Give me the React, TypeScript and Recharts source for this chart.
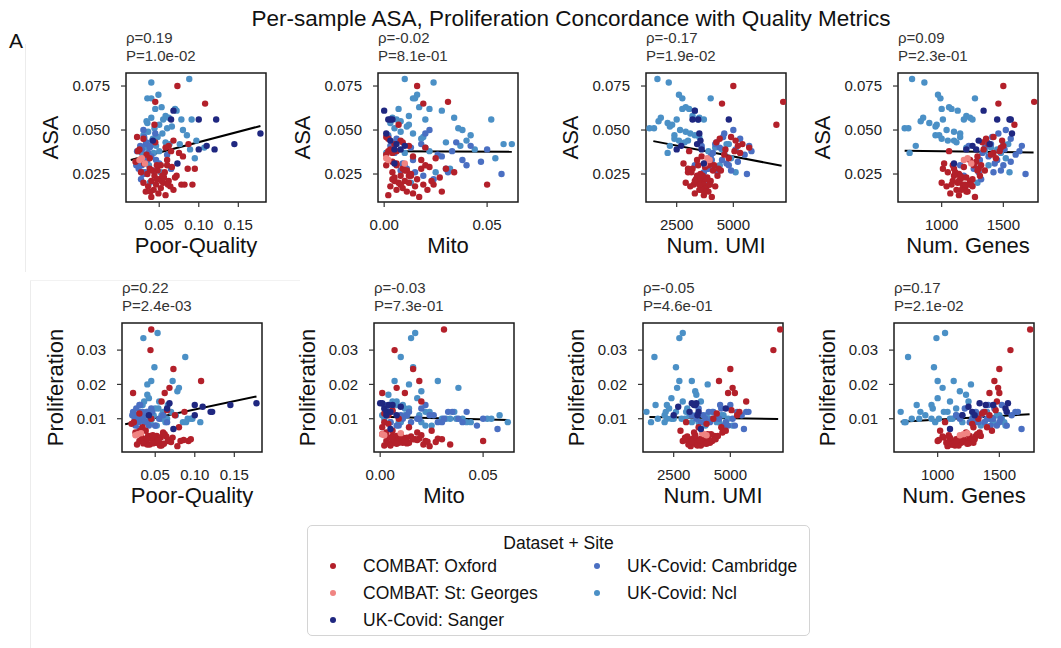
import React from 'react';
import { ScatterChart, Scatter, XAxis, YAxis, ReferenceLine, ReferenceArea } from 'recharts';

// one row per sample: [poor-quality, mito, num UMI, num genes, ASA, proliferation]
const OXFORD = [
  [0.045, 0.031, 7200, 1750, 0.066, 0.036], [0.044, 0.007, 6900, 1590, 0.053, 0.030],
  [0.073, 0.016, 5000, 1500, 0.075, 0.0245], [0.108, 0.019, 4500, 1460, 0.065, 0.021],
  [0.068, 0.008, 5100, 1490, 0.044, 0.019], [0.062, 0.012, 5200, 1500, 0.041, 0.0175],
  [0.022, 0.001, 4900, 1420, 0.046, 0.0175], [0.058, 0.020, 5700, 1480, 0.040, 0.015],
  [0.087, 0.005, 5400, 1380, 0.042, 0.012], [0.030, 0.002, 4400, 1360, 0.045, 0.0115],
  [0.075, 0.004, 5300, 1420, 0.037, 0.011], [0.025, 0.003, 4650, 1340, 0.039, 0.006],
  [0.080, 0.014, 3600, 1290, 0.035, 0.0075], [0.060, 0.018, 3400, 1230, 0.033, 0.006],
  [0.052, 0.006, 3900, 1260, 0.030, 0.005], [0.038, 0.009, 3200, 1100, 0.028, 0.004],
  [0.066, 0.022, 3750, 1180, 0.029, 0.0035], [0.048, 0.011, 4100, 1290, 0.027, 0.003],
  [0.057, 0.004, 3000, 1050, 0.026, 0.0045], [0.035, 0.013, 3550, 1140, 0.025, 0.0028],
  [0.044, 0.008, 4300, 1310, 0.024, 0.005], [0.070, 0.027, 3850, 1200, 0.023, 0.0032],
  [0.050, 0.016, 3350, 1150, 0.022, 0.004], [0.040, 0.005, 3650, 1090, 0.021, 0.0025],
  [0.062, 0.010, 4000, 1230, 0.021, 0.0055], [0.030, 0.012, 2900, 1000, 0.020, 0.0035],
  [0.055, 0.007, 3450, 1130, 0.020, 0.003], [0.046, 0.019, 3700, 1170, 0.019, 0.0042],
  [0.078, 0.024, 3250, 1080, 0.019, 0.002], [0.036, 0.003, 4200, 1250, 0.018, 0.0035],
  [0.064, 0.015, 3100, 1040, 0.018, 0.0048], [0.052, 0.009, 3800, 1190, 0.017, 0.003],
  [0.043, 0.021, 3500, 1120, 0.016, 0.0025], [0.068, 0.006, 3600, 1160, 0.016, 0.0038],
  [0.033, 0.011, 3900, 1210, 0.015, 0.0045], [0.049, 0.014, 3300, 1070, 0.014, 0.003],
  [0.058, 0.002, 3700, 1140, 0.013, 0.0022], [0.040, 0.017, 4050, 1270, 0.012, 0.004],
  [0.092, 0.008, 3950, 1220, 0.019, 0.0035], [0.095, 0.030, 4350, 1300, 0.028, 0.004],
  [0.082, 0.050, 3500, 1190, 0.019, 0.0035], [0.027, 0.034, 3150, 1110, 0.026, 0.0025],
  [0.031, 0.006, 2800, 1020, 0.031, 0.0065], [0.023, 0.002, 3050, 1060, 0.038, 0.009],
  [0.020, 0.004, 3950, 1280, 0.032, 0.0085], [0.034, 0.001, 4600, 1400, 0.036, 0.0075],
  [0.038, 0.025, 4800, 1440, 0.034, 0.0065], [0.060, 0.001, 4150, 1320, 0.030, 0.0055],
  [0.072, 0.013, 3400, 1100, 0.024, 0.0045], [0.047, 0.004, 3850, 1250, 0.022, 0.0028],
  [0.053, 0.023, 3300, 1140, 0.021, 0.0033], [0.041, 0.010, 4450, 1350, 0.027, 0.005],
  [0.086, 0.018, 3000, 1010, 0.028, 0.0038], [0.056, 0.005, 3550, 1170, 0.023, 0.0022],
  [0.039, 0.028, 3750, 1200, 0.015, 0.0042], [0.065, 0.006, 5050, 1470, 0.038, 0.0125],
  [0.045, 0.009, 4250, 1330, 0.043, 0.010], [0.054, 0.012, 3650, 1150, 0.024, 0.0036],
  [0.061, 0.008, 3950, 1240, 0.019, 0.0027], [0.047, 0.020, 3450, 1090, 0.030, 0.0052],
];

const ST_GEORGES = [
  [0.028, 0.001, 3850, 1210, 0.034, 0.0055], [0.032, 0.010, 3750, 1240, 0.031, 0.0058],
  [0.025, 0.002, 3950, 1180, 0.033, 0.0052],
];

const SANGER = [
  [0.068, 0.000, 3300, 1340, 0.061, 0.0145], [0.065, 0.002, 4800, 1550, 0.056, 0.013],
  [0.100, 0.004, 3450, 1450, 0.056, 0.014], [0.122, 0.003, 3200, 1560, 0.056, 0.012],
  [0.178, 0.001, 3500, 1570, 0.048, 0.0145], [0.145, 0.006, 3400, 1390, 0.042, 0.014],
  [0.100, 0.008, 2500, 1200, 0.039, 0.011], [0.120, 0.005, 3600, 1280, 0.039, 0.012],
  [0.110, 0.010, 2700, 1250, 0.041, 0.0135], [0.073, 0.005, 3700, 1100, 0.031, 0.007],
  [0.042, 0.003, 3550, 1300, 0.044, 0.011],
];

const CAMBRIDGE = [
  [0.030, 0.057, 5600, 1680, 0.025, 0.007], [0.025, 0.047, 5200, 1560, 0.032, 0.008],
  [0.028, 0.040, 4800, 1500, 0.030, 0.009], [0.035, 0.038, 4500, 1450, 0.033, 0.010],
  [0.022, 0.033, 5800, 1630, 0.038, 0.012], [0.032, 0.031, 4300, 1420, 0.026, 0.010],
  [0.040, 0.028, 4000, 1380, 0.035, 0.009], [0.027, 0.024, 3800, 1320, 0.022, 0.011],
  [0.030, 0.022, 5000, 1520, 0.050, 0.014], [0.045, 0.020, 4600, 1460, 0.048, 0.013],
  [0.033, 0.018, 4200, 1400, 0.042, 0.010], [0.029, 0.015, 3700, 1300, 0.026, 0.009],
  [0.038, 0.013, 4400, 1350, 0.040, 0.011], [0.024, 0.011, 3900, 1280, 0.028, 0.010],
  [0.050, 0.009, 4700, 1430, 0.031, 0.008], [0.031, 0.006, 5300, 1560, 0.045, 0.012],
  [0.036, 0.005, 4100, 1330, 0.037, 0.009], [0.026, 0.003, 3600, 1220, 0.041, 0.013],
  [0.042, 0.008, 4900, 1480, 0.027, 0.008], [0.060, 0.026, 5500, 1600, 0.036, 0.011],
  [0.055, 0.019, 3500, 1180, 0.024, 0.010], [0.034, 0.035, 4250, 1370, 0.043, 0.012],
  [0.028, 0.050, 5100, 1510, 0.039, 0.010], [0.046, 0.014, 4050, 1310, 0.033, 0.012],
  [0.021, 0.010, 3300, 1150, 0.030, 0.011], [0.031, 0.002, 4550, 1410, 0.046, 0.014],
  [0.039, 0.042, 5700, 1650, 0.041, 0.012], [0.065, 0.030, 3850, 1260, 0.028, 0.009],
];

const NCL = [
  [0.088, 0.010, 1650, 760, 0.079, 0.028], [0.040, 0.024, 2150, 860, 0.077, 0.012],
  [0.049, 0.016, 2600, 970, 0.070, 0.025], [0.035, 0.015, 2750, 990, 0.068, 0.0335],
  [0.040, 0.014, 4000, 1270, 0.068, 0.020], [0.053, 0.017, 2900, 1060, 0.063, 0.035],
  [0.070, 0.022, 3050, 1080, 0.062, 0.012], [0.072, 0.028, 3300, 1130, 0.061, 0.021],
  [0.045, 0.007, 2750, 1000, 0.062, 0.021], [0.058, 0.012, 3200, 1200, 0.058, 0.011],
  [0.040, 0.004, 3500, 1230, 0.057, 0.017], [0.062, 0.034, 1800, 850, 0.057, 0.010],
  [0.055, 0.006, 3700, 1250, 0.056, 0.015], [0.078, 0.020, 3450, 1180, 0.056, 0.018],
  [0.035, 0.003, 2100, 900, 0.054, 0.011], [0.050, 0.012, 2300, 960, 0.053, 0.013],
  [0.091, 0.052, 2500, 1010, 0.056, 0.010], [0.060, 0.036, 1300, 700, 0.051, 0.012],
  [0.044, 0.005, 1500, 730, 0.051, 0.009], [0.066, 0.011, 2200, 950, 0.052, 0.014],
  [0.080, 0.038, 2650, 1040, 0.050, 0.019], [0.036, 0.008, 2900, 1100, 0.049, 0.015],
  [0.054, 0.014, 3100, 1150, 0.048, 0.013], [0.085, 0.042, 3300, 980, 0.047, 0.009],
  [0.030, 0.002, 2400, 950, 0.047, 0.010], [0.048, 0.019, 3500, 1150, 0.046, 0.011],
  [0.097, 0.040, 3000, 1100, 0.044, 0.010], [0.041, 0.006, 2600, 1050, 0.044, 0.012],
  [0.058, 0.030, 2850, 1120, 0.043, 0.010], [0.076, 0.058, 4700, 1500, 0.042, 0.011],
  [0.063, 0.062, 4800, 1540, 0.042, 0.009], [0.046, 0.037, 2200, 790, 0.041, 0.010],
  [0.032, 0.004, 4200, 1400, 0.040, 0.012], [0.089, 0.044, 4500, 1450, 0.039, 0.009],
  [0.050, 0.022, 3900, 1350, 0.038, 0.008], [0.028, 0.001, 4600, 1480, 0.037, 0.011],
  [0.043, 0.010, 2100, 740, 0.037, 0.009], [0.095, 0.054, 4900, 1520, 0.034, 0.010],
  [0.037, 0.009, 4400, 1380, 0.030, 0.009], [0.065, 0.032, 4100, 1300, 0.028, 0.010],
  [0.052, 0.025, 5100, 1550, 0.026, 0.008], [0.038, 0.013, 3950, 1290, 0.020, 0.011],
  [0.042, 0.018, 2400, 1000, 0.045, 0.016], [0.107, 0.020, 3600, 1200, 0.040, 0.009],
  [0.034, 0.008, 1700, 830, 0.055, 0.014],
];

const METRIC_LABELS = ['Poor-Quality', 'Mito', 'Num. UMI', 'Num. Genes'];
const SCORE_LABELS = ['ASA', 'Proliferation'];

const METRIC_TICKS = [[0.05, 0.1, 0.15], [0, 0.05], [2500, 5000], [1000, 1500]];
const METRIC_DOMAINS = [[0.008, 0.185], [-0.003, 0.065], [1146, 7324], [646, 1781]];
const METRIC_DECIMALS = [2, 2, 0, 0];

const SCORE_TICKS = [[0.025, 0.05, 0.075], [0.01, 0.02, 0.03]];
const SCORE_DOMAINS = [[0.0091, 0.0824], [0.0003, 0.0379]];
const SCORE_DECIMALS = [3, 2];

// row-major: ASA row then Proliferation row
const RHO = ['0.19', '-0.02', '-0.17', '0.09', '0.22', '-0.03', '-0.05', '0.17'];
const PVAL = ['1.0e-02', '8.1e-01', '1.9e-02', '2.3e-01', '2.4e-03', '7.3e-01', '4.6e-01', '2.1e-02'];

// fitted line end points [x1, y1, x2, y2]
const FIT_LINES = [
  [0.014, 0.033, 0.178, 0.0523],
  [0.0, 0.0380, 0.062, 0.0377],
  [1470, 0.0437, 7130, 0.0297],
  [700, 0.0382, 1745, 0.0372],
  [0.012, 0.0084, 0.178, 0.0165],
  [0.0, 0.0106, 0.062, 0.0096],
  [1430, 0.0105, 7110, 0.0099],
  [700, 0.0091, 1745, 0.0113],
];

const GROUPS = [
  { name: 'UK-Covid: Ncl', color: '#4b90c6', rows: NCL },
  { name: 'UK-Covid: Cambridge', color: '#4a6fc2', rows: CAMBRIDGE },
  { name: 'COMBAT: Oxford', color: '#b3202a', rows: OXFORD },
  { name: 'COMBAT: St: Georges', color: '#f08482', rows: ST_GEORGES },
  { name: 'UK-Covid: Sanger', color: '#1f2780', rows: SANGER },
];

const LEGEND_COLS = [
  ['COMBAT: Oxford', 'COMBAT: St: Georges', 'UK-Covid: Sanger'],
  ['UK-Covid: Cambridge', 'UK-Covid: Ncl'],
];

const FONT = '"Liberation Sans", Arial, Helvetica, sans-serif';
const BOX_W = 140;
const BOX_H = 129;
const ROW_TOPS = [73, 323];
const ROW_LEFTS = [
  [126, 378, 646, 898],
  [122, 374, 643, 894],
];
const Y_LABEL_GAP = [76, 67];
const PAD_LEFT = 90;
const PAD_TOP = 8;
const PAD_RIGHT = 8;
const X_AXIS_H = 55;

const colorOf = (name: string) => GROUPS.find((g) => g.name === name)!.color;

const Dot = (props: any) => {
  const { cx, cy, fill } = props;
  if (cx == null || cy == null) return null;
  return <circle cx={cx} cy={cy} r={3.2} fill={fill} />;
};

const Panel = ({ row, col }: { row: number; col: number }) => {
  const idx = row * 4 + col;
  const left = ROW_LEFTS[row][col];
  const top = ROW_TOPS[row];
  const xd = METRIC_DOMAINS[col];
  const yd = SCORE_DOMAINS[row];
  const fit = FIT_LINES[idx];
  const yGap = Y_LABEL_GAP[row];

  return (
    <div style={{ position: 'absolute', left: left - PAD_LEFT, top: top - PAD_TOP }}>
      <ScatterChart
        width={PAD_LEFT + BOX_W + PAD_RIGHT}
        height={PAD_TOP + BOX_H + X_AXIS_H}
        margin={{ top: PAD_TOP, right: PAD_RIGHT, bottom: 0, left: 0 }}
      >
        <XAxis
          type="number"
          dataKey="x"
          domain={xd}
          allowDataOverflow
          ticks={METRIC_TICKS[col]}
          tickFormatter={(v: number) => v.toFixed(METRIC_DECIMALS[col])}
          height={X_AXIS_H}
          axisLine={false}
          tickLine={{ stroke: '#333', strokeWidth: 1.2 }}
          tickSize={5}
          tickMargin={12}
          tick={{ fill: '#222', fontSize: 15, fontFamily: FONT }}
          label={(p: any) => {
            const vb = p.viewBox;
            return (
              <text x={vb.x + vb.width / 2} y={vb.y + 51} textAnchor="middle" fontSize={22} fontFamily={FONT} fill="#111">
                {METRIC_LABELS[col]}
              </text>
            );
          }}
        />
        <YAxis
          type="number"
          dataKey="y"
          domain={yd}
          allowDataOverflow
          ticks={SCORE_TICKS[row]}
          tickFormatter={(v: number) => v.toFixed(SCORE_DECIMALS[row])}
          width={PAD_LEFT}
          axisLine={false}
          tickLine={{ stroke: '#333', strokeWidth: 1.2 }}
          tickSize={5}
          tickMargin={11}
          tick={{ fill: '#222', fontSize: 15, fontFamily: FONT }}
          label={(p: any) => {
            const vb = p.viewBox;
            const cx = vb.x + vb.width - yGap;
            const cy = vb.y + vb.height / 2;
            return (
              <text
                x={cx}
                y={cy}
                transform={`rotate(-90 ${cx} ${cy})`}
                textAnchor="middle"
                dominantBaseline="central"
                fontSize={22}
                fontFamily={FONT}
                fill="#111"
              >
                {SCORE_LABELS[row]}
              </text>
            );
          }}
        />
        {GROUPS.map((g) => (
          <Scatter
            key={g.name}
            name={g.name}
            data={g.rows.map((r) => ({ x: r[col], y: r[4 + row] }))}
            fill={g.color}
            shape={<Dot />}
            isAnimationActive={false}
          />
        ))}
        <ReferenceLine
          segment={[{ x: fit[0], y: fit[1] }, { x: fit[2], y: fit[3] }]}
          stroke="#000"
          strokeWidth={2}
          ifOverflow="visible"
        />
        <ReferenceArea
          x1={xd[0]}
          x2={xd[1]}
          y1={yd[0]}
          y2={yd[1]}
          fill="none"
          fillOpacity={0}
          stroke="#1a1a1a"
          strokeWidth={1.5}
          ifOverflow="visible"
        />
      </ScatterChart>
    </div>
  );
};

export default function App() {
  return (
    <div style={{ position: 'absolute', left: 0, top: 0, width: 1061, height: 648, background: '#fff', fontFamily: FONT, overflow: 'hidden' }}>
      <svg width={1061} height={648} style={{ position: 'absolute', left: 0, top: 0 }}>
        <line x1={25.5} y1={44} x2={25.5} y2={272} stroke="#ececec" strokeWidth={1} />
        <line x1={30.5} y1={281} x2={30.5} y2={648} stroke="#ececec" strokeWidth={1} />
        <line x1={30} y1={280.5} x2={300} y2={280.5} stroke="#f2f2f2" strokeWidth={1} />
        <text x={571} y={26} textAnchor="middle" fontSize={22.5} fill="#111" fontFamily={FONT}>
          Per-sample ASA, Proliferation Concordance with Quality Metrics
        </text>
        <text x={9} y={48} fontSize={21} fill="#111" fontFamily={FONT}>A</text>
        {[0, 1].map((row) =>
          [0, 1, 2, 3].map((col) => {
            const i = row * 4 + col;
            const x = ROW_LEFTS[row][col];
            const t = ROW_TOPS[row];
            return (
              <g key={i} fontSize={15} fill="#333" fontFamily={FONT}>
                <text x={x} y={t - 30}>ρ={RHO[i]}</text>
                <text x={x} y={t - 12}>P={PVAL[i]}</text>
              </g>
            );
          })
        )}
      </svg>
      {[0, 1].map((row) => [0, 1, 2, 3].map((col) => <Panel key={`${row}-${col}`} row={row} col={col} />))}
      <div
        style={{
          position: 'absolute',
          left: 307,
          top: 525,
          width: 503,
          height: 111,
          border: '1.5px solid #d4d4d4',
          borderRadius: 5,
          boxSizing: 'border-box',
          fontSize: 17.5,
          color: '#111',
        }}
      >
        <div style={{ position: 'absolute', left: 0, right: 0, top: 7, textAlign: 'center', lineHeight: '20px' }}>
          Dataset + Site
        </div>
        {LEGEND_COLS.map((names, c) =>
          names.map((n, r) => (
            <div
              key={n}
              style={{ position: 'absolute', left: c === 0 ? 22 : 286, top: 30 + r * 27, height: 20, lineHeight: '20px', whiteSpace: 'nowrap' }}
            >
              <span style={{ display: 'inline-block', width: 6, height: 6, borderRadius: 3, background: colorOf(n), verticalAlign: 'middle', marginRight: 27, position: 'relative', top: -1 }} />
              {n}
            </div>
          ))
        )}
      </div>
    </div>
  );
}
